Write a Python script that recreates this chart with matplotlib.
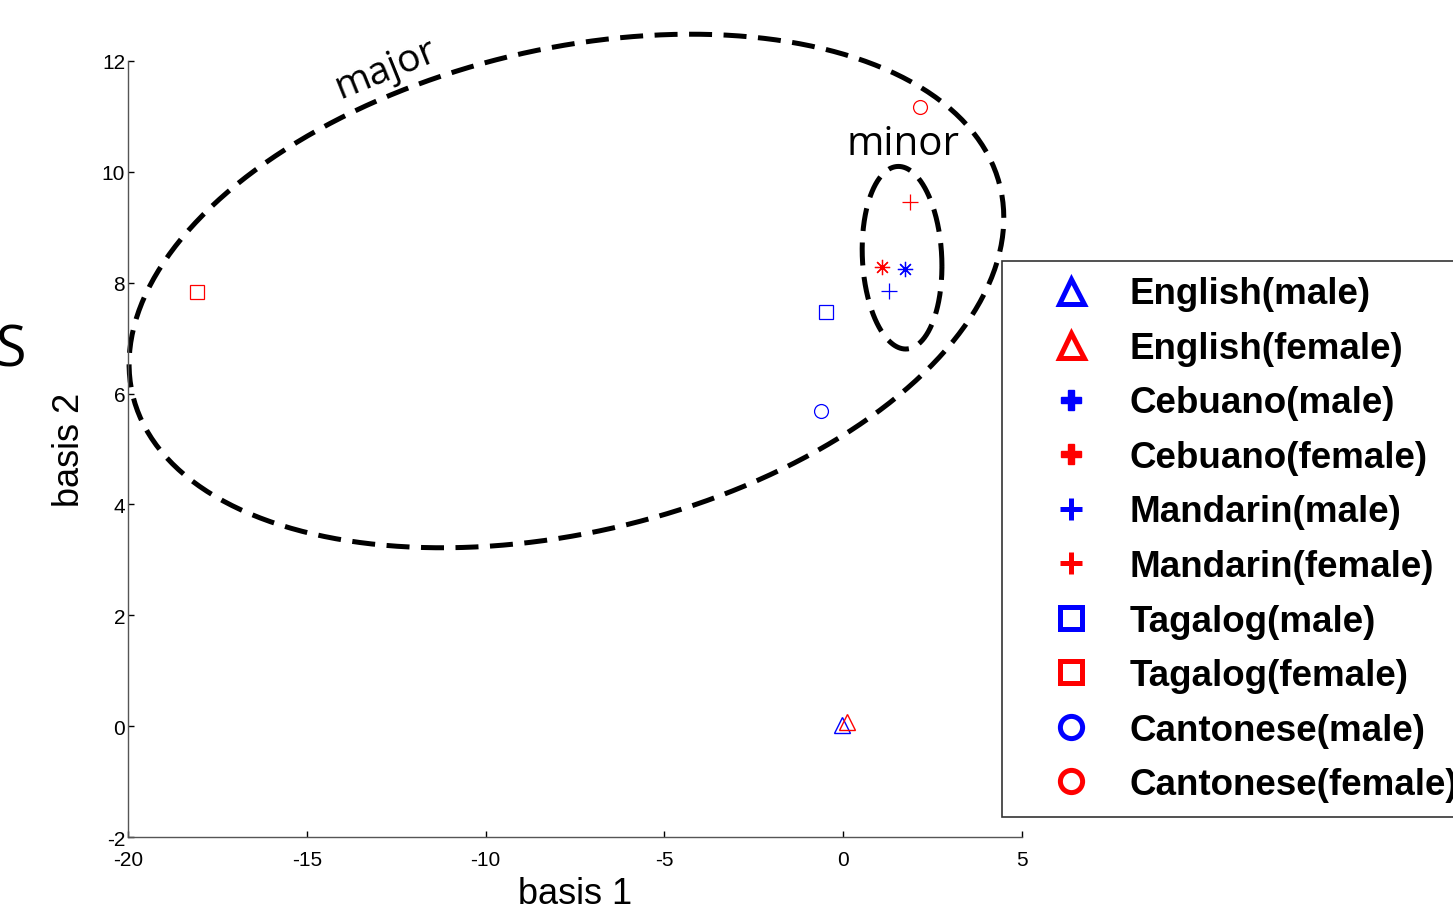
import matplotlib
matplotlib.use('Agg')
import matplotlib.pyplot as plt
from matplotlib.lines import Line2D
import numpy as np

# point coordinates (basis 1, basis 2)
labels = ['English(male)', 'English(female)', 'Cebuano(male)', 'Cebuano(female)',
          'Mandarin(male)', 'Mandarin(female)', 'Tagalog(male)', 'Tagalog(female)',
          'Cantonese(male)', 'Cantonese(female)']
basis1 = [-0.03, 0.10, 1.73, 1.08, 1.28, 1.87, -0.48, -18.07, -0.62, 2.15]
basis2 = [0.02, 0.07, 8.25, 8.28, 7.85, 9.46, 7.47, 7.83, 5.69, 11.17]
colors = ['blue', 'red'] * 5
markers = ['^', '^', (8, 2, 0), (8, 2, 0), '+', '+', 's', 's', 'o', 'o']
legend_markers = ['^', '^', 'P', 'P', '+', '+', 's', 's', 'o', 'o']

xticks = [-20, -15, -10, -5, 0, 5]
yticks = [-2, 0, 2, 4, 6, 8, 10, 12]

# cluster outlines: centre, x half-axis, cross term, y term
major_ell = dict(cx=-7.74, cy=7.85, a=12.23, c=1.32, d=4.44)
minor_ell = dict(cx=1.645, cy=8.45, a=1.115, c=-0.15, d=1.64)

fig = plt.figure(figsize=(14.53, 9.12), dpi=100)
ax = fig.add_axes([0.0881, 0.0811, 0.6153, 0.851])

sizes = {'^': 11, 's': 10, 'o': 10, '+': 12}
for x, y, col, m in zip(basis1, basis2, colors, markers):
    ms = sizes.get(m, 11) if isinstance(m, str) else 11
    ax.plot(x, y, linestyle='none', marker=m, markersize=ms, markerfacecolor='none',
            markeredgecolor=col, markeredgewidth=0.9 if m != '^' else 1.0)

t = np.linspace(0, 2 * np.pi, 400)
for e in (major_ell, minor_ell):
    ax.plot(e['cx'] + e['a'] * np.cos(t), e['cy'] + e['c'] * np.cos(t) + e['d'] * np.sin(t),
            color='black', linewidth=3.6, linestyle=(0, (4.6, 2.3)), clip_on=False)

ax.text(-12.8, 11.86, 'major', family='Open Sans', fontsize=28, rotation=22,
        ha='center', va='center')
ax.text(1.67, 10.5, 'minor', family='Open Sans', fontsize=29, ha='center', va='center')
fig.text(26 / 1453, 1 - 352 / 912, 'S', family='Open Sans', fontsize=40,
         ha='right', va='center')

ax.set_xlim(-20, 5)
ax.set_ylim(-2, 12)
ax.set_xticks(xticks)
ax.set_yticks(yticks)
ax.set_xticklabels([str(v) for v in xticks], family='Liberation Sans', fontsize=15)
ax.set_yticklabels([str(v) for v in yticks], family='Liberation Sans', fontsize=15)
ax.tick_params(direction='in', length=4, width=1)
ax.tick_params(axis='x', pad=9.5)
ax.tick_params(axis='y', pad=2)
for s in ['top', 'right']:
    ax.spines[s].set_visible(False)
for s in ['left', 'bottom']:
    ax.spines[s].set_color('#555555')
    ax.spines[s].set_linewidth(1)

ax.set_xlabel('basis 1', family='Liberation Sans', fontsize=26, labelpad=5)
ax.set_ylabel('basis 2', family='Liberation Sans', fontsize=26, labelpad=11)

handles = []
for col, m in zip(colors, legend_markers):
    ms = {'^': 18, 's': 16, 'o': 16, '+': 16, 'P': 15}[m]
    handles.append(Line2D([], [], linestyle='none', marker=m, color=col,
                          markerfacecolor=col if m == 'P' else 'none',
                          markeredgecolor=col, markersize=ms,
                          markeredgewidth=1 if m == 'P' else 3.6))
leg = fig.legend(handles, labels, loc='upper left',
                 bbox_to_anchor=(1002 / 1453, 1 - 262 / 912),
                 prop={'family': 'Liberation Sans', 'weight': 'bold', 'size': 26.5},
                 frameon=True, fancybox=False, borderpad=0.42, borderaxespad=0,
                 handlelength=2.9, handletextpad=0.15, labelspacing=0.53)
leg.get_frame().set_edgecolor('black')
leg.get_frame().set_linewidth(1.2)

fig.savefig('out.png', dpi=100)
